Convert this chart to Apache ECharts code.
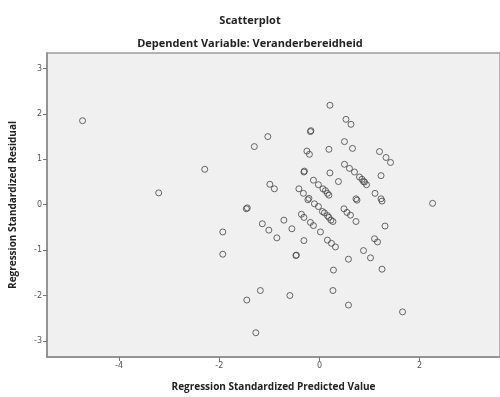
<!DOCTYPE html>
<html>
<head>
<meta charset="utf-8">
<script src="https://cdn.jsdelivr.net/npm/echarts@6/dist/echarts.min.js"></script>
<style>
  html, body { margin: 0; padding: 0; background: #fff; }
  #chart { width: 500px; height: 397px; }
</style>
</head>
<body>
<div id="chart"></div>
<script>
// standardized predicted value / standardized residual
const predicted = [
  -4.73, -3.21, -2.29, -1.30, -1.03, -1.93, -1.93, -1.45, -1.18, -1.27,
  -0.59, -1.46, -1.44, -1.14, -1.01, -0.85, -0.71, -0.55, -0.36, -0.31,
  -0.18, -0.12, 0.02, -0.31, -0.47, -0.46, 0.16, 0.24, 0.32, -0.10,
  -0.02, 0.06, 0.16, 0.23, 0.10, 0.19, 0.27, -0.23, -0.21, 0.28,
  0.27, 0.58, 0.88, 1.02, 1.25, 0.58, 1.66, 1.10, 1.16, 1.31,
  0.73, 0.49, 0.55, 0.62, 0.75, 1.25, 2.26, 1.11, 1.23, 0.73,
  0.12, 0.19, 0.21, 0.38, 1.23, 0.50, 0.60, 0.70, 0.80, 0.85,
  0.88, 0.94, -0.12, -0.02, 0.07, 0.16, -0.41, -0.32, -0.99, -0.90,
  -0.31, -0.30, -0.25, -0.20, 0.19, -0.18, -0.17, 0.50, 0.66, 1.20,
  1.33, 1.42, 0.53, 0.63, 0.21, 0.90
];
const residual = [
  1.85, 0.26, 0.78, 1.28, 1.50, -0.60, -1.09, -2.10, -1.89, -2.82,
  -2.00, -0.09, -0.07, -0.42, -0.56, -0.73, -0.34, -0.53, -0.21, -0.28,
  -0.39, -0.46, -0.60, -0.79, -1.12, -1.11, -0.78, -0.85, -0.93, 0.02,
  -0.04, -0.15, -0.24, -0.34, -0.18, -0.28, -0.37, 0.11, 0.14, -1.44,
  -1.89, -1.20, -1.01, -1.17, -1.42, -2.21, -2.36, -0.75, -0.82, -0.47,
  -0.37, -0.09, -0.17, -0.23, 0.10, 0.08, 0.03, 0.25, 0.13, 0.13,
  0.31, 0.21, 0.70, 0.51, 0.64, 0.89, 0.80, 0.72, 0.61, 0.56,
  0.51, 0.44, 0.54, 0.44, 0.35, 0.25, 0.35, 0.25, 0.45, 0.35,
  0.72, 0.74, 1.18, 1.11, 1.22, 1.61, 1.63, 1.39, 1.24, 1.17,
  1.04, 0.93, 1.88, 1.77, 2.19, 0.50
];
const xTicks = [-4, -2, 0, 2];
const yTicks = [-3, -2, -1, 0, 1, 2, 3];

const points = predicted.map((x, i) => [x, residual[i]]);

const chart = echarts.init(document.getElementById('chart'));
const tickLabel = { fontSize: 8, color: '#555', fontFamily: 'DejaVu Sans' };

chart.setOption({
  animation: false,
  title: [
    {
      text: 'Scatterplot',
      left: 'center', top: 10,
      textStyle: { fontSize: 11, fontWeight: 'bold', color: '#222', fontFamily: 'Open Sans' }
    },
    {
      text: 'Dependent Variable: Veranderbereidheid',
      left: 'center', top: 33,
      textStyle: { fontSize: 11, fontWeight: 'bold', color: '#222', fontFamily: 'Open Sans' }
    }
  ],
  grid: {
    left: 46, top: 53, right: -10, bottom: 38,
    show: true,
    backgroundColor: '#f0f0f0',
    borderColor: '#9a9a9a',
    borderWidth: 1.5
  },
  xAxis: {
    type: 'value',
    min: -5.44, max: 3.606,
    name: 'Regression Standardized Predicted Value',
    nameLocation: 'middle',
    nameGap: 25,
    nameTextStyle: { fontSize: 10, fontWeight: 'bold', color: '#222', fontFamily: 'Open Sans' },
    axisLine: { show: true, onZero: false, lineStyle: { color: '#8a8a8a', width: 1.5 } },
    splitLine: { show: false },
    axisTick: { show: true, customValues: xTicks, length: 4, lineStyle: { color: '#777' } },
    axisLabel: Object.assign({ customValues: xTicks, margin: 5 }, tickLabel)
  },
  yAxis: {
    type: 'value',
    min: -3.354, max: 3.341,
    name: 'Regression Standardized Residual',
    nameLocation: 'middle',
    nameGap: 29,
    nameTextStyle: { fontSize: 10, fontWeight: 'bold', color: '#222', fontFamily: 'Open Sans' },
    axisLine: { show: true, onZero: false, lineStyle: { color: '#8a8a8a', width: 1.5 } },
    splitLine: { show: false },
    axisTick: { show: true, customValues: yTicks, length: 4, lineStyle: { color: '#777' } },
    axisLabel: Object.assign({ customValues: yTicks, margin: 5 }, tickLabel)
  },
  series: [
    {
      type: 'scatter',
      data: points,
      symbol: 'circle',
      symbolSize: 6,
      itemStyle: { color: 'rgba(0,0,0,0)', borderColor: '#444', borderWidth: 1 }
    }
  ]
});
</script>
</body>
</html>
